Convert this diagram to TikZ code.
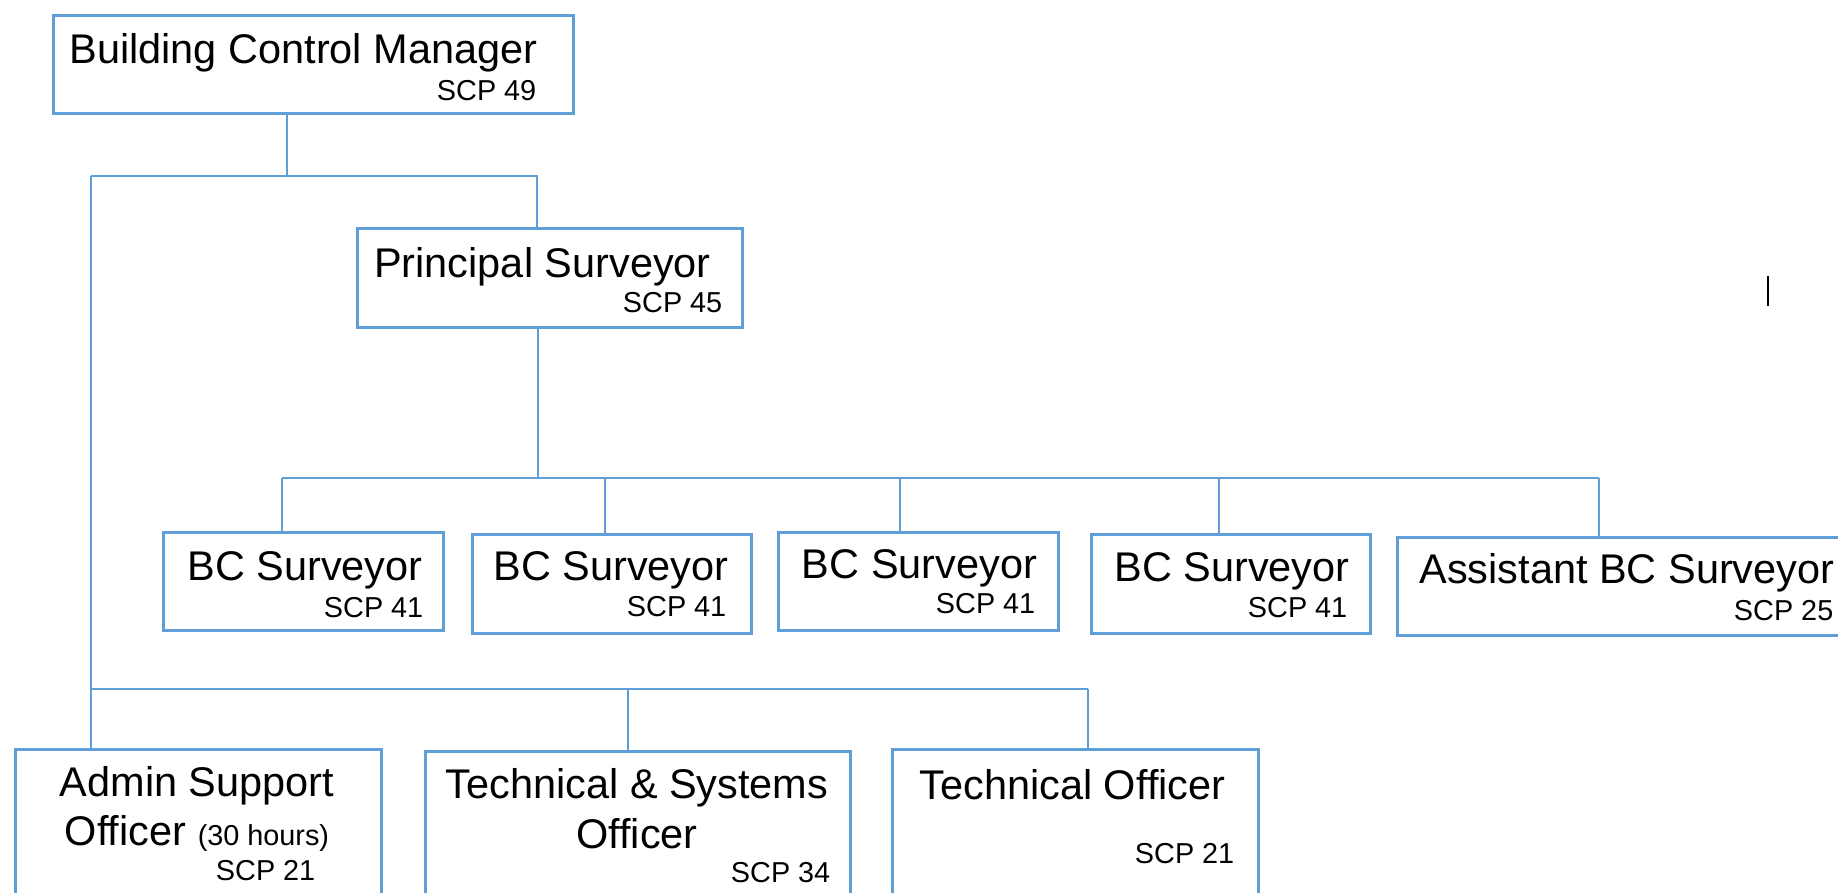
\documentclass[tikz,border=0pt]{standalone}
\usepackage{fontspec}
\setmainfont{Liberation Sans}
\definecolor{bcblue}{RGB}{96,158,216}

\begin{document}
\begin{tikzpicture}[
    post/.style={draw=bcblue, line width=0.75pt, inner sep=0pt, anchor=north west},
    title/.style={font=\fontsize{11.8}{14.2}\selectfont, align=center, inner sep=0pt},
    scp/.style={font=\fontsize{8.2}{10}\selectfont, anchor=east, inner sep=0pt},
    link/.style={draw=bcblue, line width=0.75pt}
]
\useasboundingbox (0,0) rectangle (18.38,8.93);
\clip (0,0) rectangle (18.38,8.93);

% ---------------- Top Level ----------------
\node[post, minimum width=5.20cm, minimum height=0.985cm] (bcm) at (0.52, 8.79) {};
\node[title] (bcm-t) at (3.035, 8.40) {Building Control Manager};
\node[scp] (bcm-s) at (5.37, 8.02) {SCP 49};

\node[post, minimum width=3.85cm, minimum height=0.99cm] (ps) at (3.56, 6.66) {};
\node[title] (ps-t) at (5.425, 6.26) {Principal Surveyor};
\node[scp] (ps-s) at (7.23, 5.90) {SCP 45};

% ---------------- Surveyors ----------------
\node[post, minimum width=2.80cm, minimum height=0.98cm] (bc1) at (1.62, 3.62) {};
\node[title] (bc1-t) at (3.05, 3.23) {BC Surveyor};
\node[scp] (bc1-s) at (4.24, 2.85) {SCP 41};

\node[post, minimum width=2.79cm, minimum height=0.99cm] (bc2) at (4.71, 3.60) {};
\node[title] (bc2-t) at (6.11, 3.23) {BC Surveyor};
\node[scp] (bc2-s) at (7.27, 2.86) {SCP 41};

\node[post, minimum width=2.80cm, minimum height=0.98cm] (bc3) at (7.77, 3.62) {};
\node[title] (bc3-t) at (9.195, 3.25) {BC Surveyor};
\node[scp] (bc3-s) at (10.36, 2.89) {SCP 41};

\node[post, minimum width=2.79cm, minimum height=0.99cm] (bc4) at (10.90, 3.60) {};
\node[title] (bc4-t) at (12.32, 3.22) {BC Surveyor};
\node[scp] (bc4-s) at (13.48, 2.85) {SCP 41};

\node[post, minimum width=4.54cm, minimum height=0.98cm] (abc) at (13.96, 3.57) {};
\node[title] (abc-t) at (16.27, 3.20) {Assistant BC Surveyor};
\node[scp] (abc-s) at (18.34, 2.82) {SCP 25};

% ---------------- Support Staff ----------------
\node[post, minimum width=3.66cm, minimum height=1.80cm] (aso) at (0.14, 1.45) {};
\node[title] (aso-t) at (1.97, 0.84) {Admin Support\\Officer {\fontsize{8.2}{10}\selectfont(30 hours)}};
\node[scp] (aso-s) at (3.16, 0.22) {SCP 21};

\node[post, minimum width=4.25cm, minimum height=1.80cm] (tso) at (4.24, 1.43) {};
\node[title] (tso-t) at (6.37, 0.84) {Technical \& Systems\\Officer};
\node[scp] (tso-s) at (8.31, 0.20) {SCP 34};

\node[post, minimum width=3.66cm, minimum height=1.80cm] (tof) at (8.91, 1.45) {};
\node[title] (tof-t) at (10.725, 1.08) {Technical Officer};
\node[scp] (tof-s) at (12.35, 0.39) {SCP 21};

% ---------------- Connectors ----------------
\coordinate (jm) at (2.87, 7.17);
\coordinate (jl) at (0.91, 7.17);
\coordinate (jp) at (5.37, 7.17);
\draw[link] (bcm.south -| jm) -- (jm);
\draw[link] (jl) -- (jp) -- (jp |- ps.north);
\draw[link] (jl) -- (jl |- aso.north);

\coordinate (jb) at (5.38, 4.15);
\coordinate (jb1) at (2.82, 4.15);
\coordinate (jb2) at (6.05, 4.15);
\coordinate (jb3) at (9.00, 4.15);
\coordinate (jb4) at (12.19, 4.15);
\coordinate (jb5) at (15.99, 4.15);
\draw[link] (ps.south -| jb) -- (jb);
\draw[link] (jb1) -- (jb5);
\foreach \j/\b in {jb1/bc1, jb2/bc2, jb3/bc3, jb4/bc4, jb5/abc}
    \draw[link] (\j) -- (\j |- \b.north);

\coordinate (jt1) at (6.28, 2.04);
\coordinate (jt2) at (10.88, 2.04);
\draw[link] (jl |- jt2) -- (jt2);
\draw[link] (jt1) -- (jt1 |- tso.north);
\draw[link] (jt2) -- (jt2 |- tof.north);

% stray cursor mark
\draw[black, line width=0.6pt] (17.68, 6.17) -- (17.68, 5.87);

\end{tikzpicture}
\end{document}
